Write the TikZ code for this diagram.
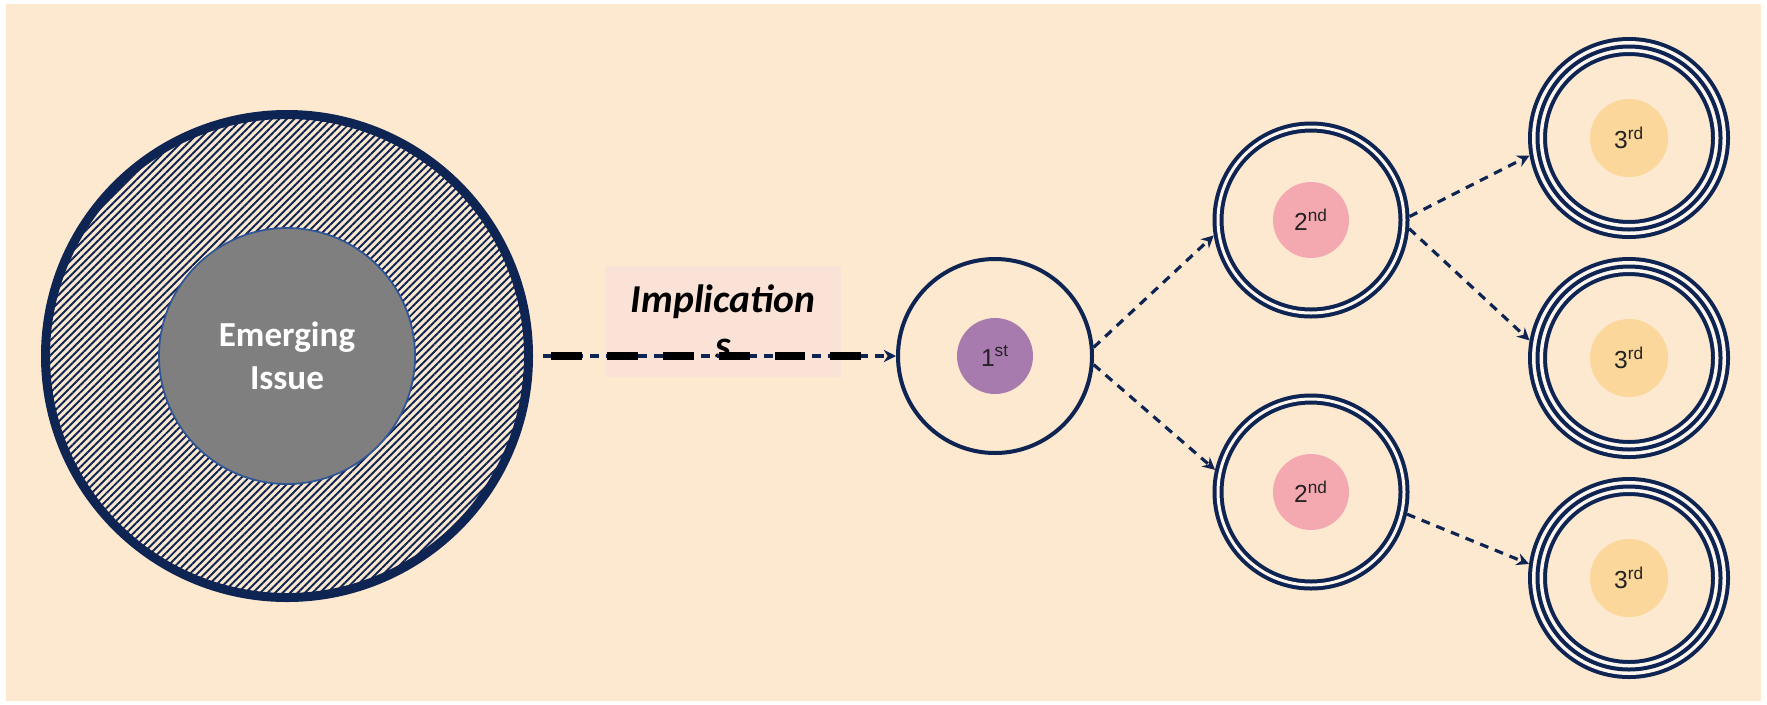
\documentclass[tikz,border=0pt]{standalone}
\usepackage{fontspec}
\setmainfont{Carlito}
\newfontfamily\labelfont{Liberation Sans}
\usepackage{tikz}
\usetikzlibrary{arrows.meta,patterns.meta}

\definecolor{paper}{HTML}{FDE9CF}
\definecolor{navy}{HTML}{0E2452}
\definecolor{coregray}{HTML}{7F7F7F}
\definecolor{coreblue}{HTML}{2E5597}
\definecolor{boxpink}{HTML}{FAE3D6}
\definecolor{plum}{HTML}{A77BAE}
\definecolor{rose}{HTML}{F4A8B0}
\definecolor{peach}{HTML}{FBD79B}
\definecolor{ink}{HTML}{222222}

\begin{document}
\begin{tikzpicture}[
		flow/.style={draw=navy, line width=1.8pt, dash pattern=on 5pt off 4pt, -{Stealth[length=7pt,width=7pt]}},
		implline/.style={draw=black, line width=4pt, dash pattern=on 17.6pt off 14.2pt},
		issue/.style={circle, draw=navy, line width=0.18cm, minimum size=9.66cm, inner sep=0, outer sep=0.09cm,
			pattern={Lines[angle=45,distance=3pt,line width=1.1pt]}, pattern color=navy},
		core/.style={circle, draw=coreblue, line width=1pt, fill=coregray, minimum size=5.12cm, inner sep=0,
			text=white, align=center, font=\bfseries\fontsize{20}{24.5}\selectfont},
		implbox/.style={fill=boxpink, minimum width=4.72cm, minimum height=2.22cm, inner sep=0, align=center,
			font=\bfseries\itshape\fontsize{22.5}{26.2}\selectfont},
		ring1/.style={circle, draw=navy, line width=0.08cm, minimum size=3.88cm, inner sep=0, outer sep=0.04cm},
		ring2/.style={circle, draw=navy, line width=0.08cm, double=paper!40!white, double distance=0.06cm,
			minimum size=3.72cm, inner sep=0, outer sep=0.11cm},
		ring3/.style={circle, preaction={draw=navy, line width=0.38cm}, draw=paper!40!white, line width=0.22cm,
			postaction={draw=navy, line width=0.08cm}, minimum size=3.66cm, inner sep=0, outer sep=0.19cm},
		dot/.style={circle, minimum size=1.52cm, inner sep=0, text=ink, font=\labelfont\fontsize{14}{16}\selectfont}
	]
		% background
		\fill[white] (0,0) rectangle (35.34,-14.08);
		\fill[paper] (0.12,-0.08) rectangle (35.22,-14.02);

		% emerging issue
		\node[issue] (issue) at (5.74,-7.12) {};
		\node[core] (core) at (issue) {Emerging\\Issue};

		% orders of implications
		\node[ring1] (first) at (19.9,-7.12) {};
		\node[dot, fill=plum] (firstdot) at (first) {1\textsuperscript{st}};
		\foreach \n/\y in {sndA/-4.4, sndB/-9.84} {
			\node[ring2] (\n) at (26.22,\y) {};
			\node[dot, fill=rose] at (\n) {2\textsuperscript{nd}};
		}
		\foreach \n/\y in {thdA/-2.76, thdB/-7.16, thdC/-11.56} {
			\node[ring3] (\n) at (32.58,\y) {};
			\node[dot, fill=peach, minimum size=1.56cm] at (\n) {3\textsuperscript{rd}};
		}

		% label and connectors
		\node[implbox] (impl) at (14.46,-6.43) {Implication\\s};
		\draw[flow, shorten <=0.2cm] (issue.east) -- (first.west);
		\draw[implline, shorten <=0.36cm, shorten >=0.68cm] (issue.east) -- (first.west);
		\draw[flow] (first.5) -- (sndA.189);
		\draw[flow] (first.-5) -- (sndB.167);
		\draw[flow] (sndA.2) -- (thdA.190);
		\draw[flow] (sndA.-5) -- (thdB.170);
		\draw[flow] (sndB.-13) -- (thdC.172);
	\end{tikzpicture}
\end{document}
